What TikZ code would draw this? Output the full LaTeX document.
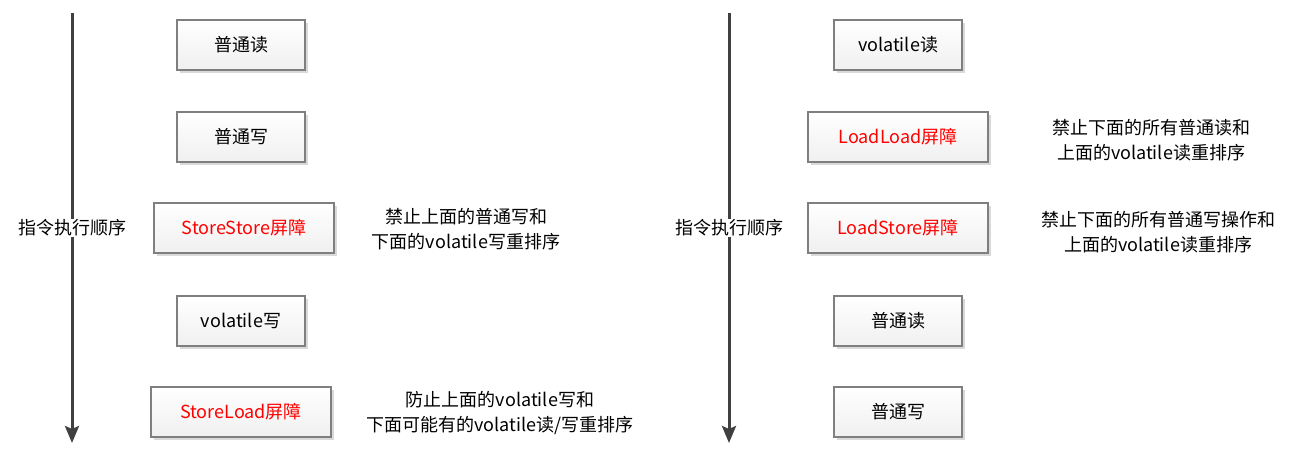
\documentclass[tikz,border=0pt]{standalone}
\usepackage{fontspec}
\setmainfont{Noto Sans CJK SC}
\usetikzlibrary{arrows.meta,shadows}
\definecolor{boxline}{HTML}{7F7F7F}
\definecolor{arrowgray}{HTML}{404040}
\definecolor{fencered}{HTML}{FF0000}
\tikzset{
  txt/.style={font=\fontsize{18}{25}\selectfont},
  opbox/.style={txt, draw=boxline, line width=1.3pt, top color=white, bottom color=black!6,
    minimum width=128pt, minimum height=50pt,
    drop shadow={shadow xshift=3pt, shadow yshift=-3pt, fill=black!15, opacity=1}},
  fence/.style={opbox, minimum width=180pt, text=fencered},
  note/.style={txt, align=center},
  order/.style={draw=arrowgray, line width=3pt, -{Stealth[length=17pt,width=14pt,inset=3pt]}},
  orderlabel/.style={txt, fill=white, inner sep=1pt}
}
\begin{document}
\begin{tikzpicture}[x=1pt,y=-1pt]
\useasboundingbox (0,0) rectangle (1299,461);
\coordinate (ltop) at (72,13);
\coordinate (lbot) at (72,443);
\draw[order] (ltop) -- (lbot);
\node[orderlabel] (lorder) at (72,228) {指令执行顺序};
\node[opbox] (lread) at (241,45) {普通读};
\node[opbox] (lwrite) at (241,137) {普通写};
\node[fence] (ss) at (244,228) {StoreStore屏障};
\node[opbox] (vwrite) at (241,321) {volatile写};
\node[fence] (sl) at (241,412) {StoreLoad屏障};
\node[note] (ssnote) at (466,229) {禁止上面的普通写和\\下面的volatile写重排序};
\node[note] (slnote) at (500,413) {防止上面的volatile写和\\下面可能有的volatile读/写重排序};
\coordinate (rtop) at (729,13);
\coordinate (rbot) at (729,443);
\draw[order] (rtop) -- (rbot);
\node[orderlabel] (rorder) at (729,228) {指令执行顺序};
\node[opbox] (vread) at (898,45) {volatile读};
\node[fence] (ll) at (898,137) {LoadLoad屏障};
\node[fence] (ls) at (898,228) {LoadStore屏障};
\node[opbox] (rread) at (898,321) {普通读};
\node[opbox] (rwrite) at (898,412) {普通写};
\node[note] (llnote) at (1151,140) {禁止下面的所有普通读和\\上面的volatile读重排序};
\node[note] (lsnote) at (1158,232) {禁止下面的所有普通写操作和\\上面的volatile读重排序};
\end{tikzpicture}
\end{document}
